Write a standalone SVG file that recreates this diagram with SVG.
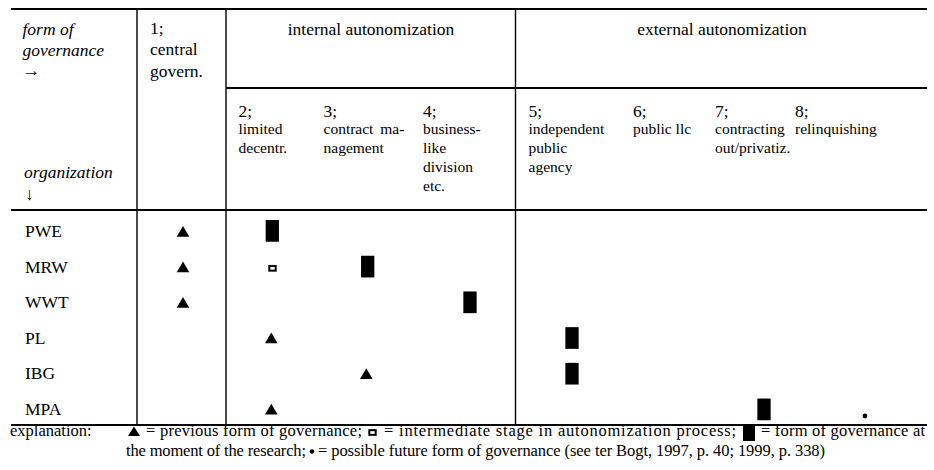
<svg xmlns="http://www.w3.org/2000/svg" width="934" height="470" viewBox="0 0 934 470">
<defs>
<style>
text{font-family:"Liberation Serif","Times New Roman",serif;fill:#000}
.m{font-size:17.5px}
.it{font-style:italic}
.s{font-size:15.5px}
.x{font-size:16.5px}
.c{text-anchor:middle}
.h{stroke:#000;stroke-width:2;fill:none}
.v{stroke:#000;stroke-width:1.4;fill:none}
</style>
<path id="tri" d="M-6.3 0H6.3L0-10.7Z" fill="#000"/>
<rect id="blk" x="-6.65" y="-10.85" width="13.3" height="21.7" fill="#000"/>
<rect id="sq" x="-3.2" y="-2.35" width="6.4" height="4.7" fill="#fff" stroke="#000" stroke-width="2"/>
</defs>
<rect width="934" height="470" fill="#fff"/>

<g id="connectors">
<line class="h" x1="11" y1="9" x2="927" y2="9"/>
<line class="h" x1="226" y1="88" x2="927" y2="88"/>
<line class="h" x1="11" y1="210" x2="927" y2="210"/>
<line class="h" x1="11" y1="425" x2="927" y2="425"/>
<line class="v" x1="137" y1="9" x2="137" y2="425"/>
<line class="v" x1="226" y1="9" x2="226" y2="425"/>
<line class="v" x1="515.5" y1="9" x2="515.5" y2="425"/>
</g>

<g id="corner">
<text class="m it" x="22.5" y="34.5">form of</text>
<text class="m it" x="22.5" y="55.5">governance</text>
<text class="m" x="22.5" y="76">→</text>
<text class="m it" x="24" y="178">organization</text>
<text class="m" x="25" y="200">↓</text>
</g>

<g id="col1">
<text class="m" x="150" y="34">1;</text>
<text class="m" x="150" y="55">central</text>
<text class="m" x="150" y="76.5">govern.</text>
</g>

<g id="internal">
<text class="m c" x="371" y="34.5">internal autonomization</text>
</g>
<g id="external">
<text class="m c" x="722" y="34.5">external autonomization</text>
</g>

<g id="col2">
<text class="m" x="238.5" y="116.5">2;</text>
<text class="s" x="238.5" y="134">limited</text>
<text class="s" x="238.5" y="152.5">decentr.</text>
</g>
<g id="col3">
<text class="m" x="323.5" y="116.5">3;</text>
<text class="s" x="323.5" y="134" word-spacing="3">contract ma-</text>
<text class="s" x="323.5" y="152.5">nagement</text>
</g>
<g id="col4">
<text class="m" x="423" y="116.5">4;</text>
<text class="s" x="423" y="134">business-</text>
<text class="s" x="423" y="152.5">like</text>
<text class="s" x="423" y="171.5">division</text>
<text class="s" x="423" y="190.5">etc.</text>
</g>
<g id="col5">
<text class="m" x="528.5" y="116.5">5;</text>
<text class="s" x="528.5" y="134">independent</text>
<text class="s" x="528.5" y="152.5">public</text>
<text class="s" x="528.5" y="171.5">agency</text>
</g>
<g id="col6">
<text class="m" x="633" y="116.5">6;</text>
<text class="s" x="633" y="134">public llc</text>
</g>
<g id="col7">
<text class="m" x="715" y="116.5">7;</text>
<text class="s" x="715" y="134">contracting</text>
<text class="s" x="715" y="152.5">out/privatiz.</text>
</g>
<g id="col8">
<text class="m" x="795" y="116.5">8;</text>
<text class="s" x="795" y="134">relinquishing</text>
</g>

<g id="row-PWE">
<text class="m" x="25" y="237">PWE</text>
<use href="#tri" x="183" y="236.7"/>
<use href="#blk" x="272.3" y="230.9"/>
</g>
<g id="row-MRW">
<text class="m" x="25" y="272.6">MRW</text>
<use href="#tri" x="183" y="272.2"/>
<use href="#sq" x="272.5" y="268.3"/>
<use href="#blk" x="367.7" y="266.6"/>
</g>
<g id="row-WWT">
<text class="m" x="25" y="308.2">WWT</text>
<use href="#tri" x="183" y="307.8"/>
<use href="#blk" x="470" y="302.3"/>
</g>
<g id="row-PL">
<text class="m" x="25" y="343.8">PL</text>
<use href="#tri" x="271.3" y="343.3"/>
<use href="#blk" x="572" y="338"/>
</g>
<g id="row-IBG">
<text class="m" x="25" y="379.4">IBG</text>
<use href="#tri" x="366.3" y="379"/>
<use href="#blk" x="572" y="373.7"/>
</g>
<g id="row-MPA">
<text class="m" x="25" y="415">MPA</text>
<use href="#tri" x="271.3" y="414.5"/>
<use href="#blk" x="764" y="409.4"/>
<circle cx="865" cy="416" r="2.4" fill="#000"/>
</g>

<g id="legend">
<text class="x" x="10" y="436">explanation:</text>
<path d="M128 436H140L134 426.5Z" fill="#000"/>
<text class="x" x="146" y="436" textLength="216">= previous form of governance;</text>
<use href="#sq" x="372.5" y="432.5"/>
<text class="x" x="384" y="436" textLength="352">= intermediate stage in autonomization process;</text>
<rect x="743" y="424" width="12" height="17" fill="#000"/>
<text class="x" x="761" y="436" textLength="164">= form of governance at</text>
<text class="x" x="126" y="456" textLength="180">the moment of the research;</text>
<circle cx="312" cy="451.5" r="2.3" fill="#000"/>
<text class="x" x="318" y="456" textLength="507">= possible future form of governance (see ter Bogt, 1997, p. 40; 1999, p. 338)</text>
</g>
</svg>
